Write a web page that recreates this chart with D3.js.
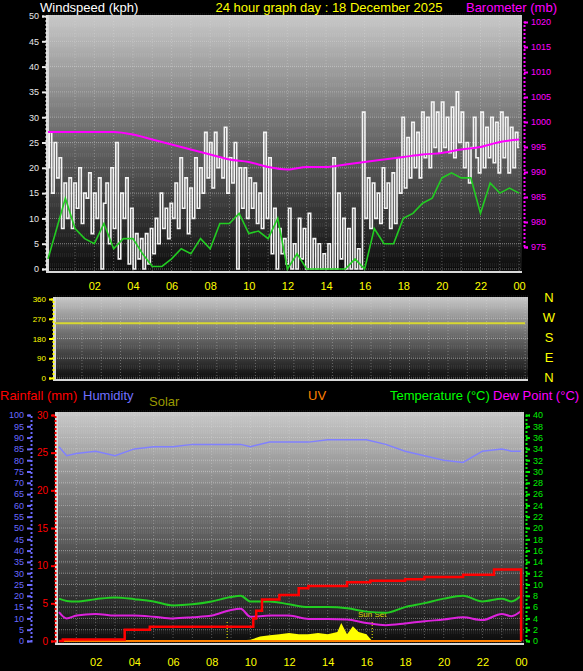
<!DOCTYPE html>
<html>
<head>
<meta charset="UTF-8">
<script src="https://d3js.org/d3.v7.min.js"></script>
<style>
body { margin:0; background:#000; }
text { font-family: "Liberation Sans", Arial, sans-serif; }
</style>
</head>
<body>
<svg id="chart" width="583" height="671"></svg>
<script>
// ---- data ----
var hourTicks = [2,4,6,8,10,12,14,16,18,20,22,24];
var windGust = [
 20,27,15,25,18,22,8,17, 10,18,8,17,12,20,9,15, 14,19,7,15,10,18,0,13, 17,5,20,8,25,2,15,10,
 18,1,12,0,7,2,6,0, 7,1,8,3,10,5,15,8, 12,6,13,10,17,8,22,12, 18,7,16,10,22,12,20,15,
 27,18,25,16,27,20,22,18, 28,15,22,17,25,0,20,12, 20,10,18,12,17,9,15,8, 27,10,22,3,12,0,8,3,
 6,1,12,0,5,0,10,2, 8,0,11,0,6,0,5,0, 3,0,5,0,22,0,15,2, 10,0,8,0,12,0,4,0,
 31,10,18,8,17,10,15,9, 20,12,17,8,19,9,22,15, 30,16,26,18,29,20,27,18, 31,22,30,20,33,24,31,23,
 33,24,30,23,32,22,35,25, 31,20,25,17,24,30,22,19, 31,20,28,22,30,21,29,19, 31,22,30,19,28,20,27,24];
var windAvgH = [-0.4,0.5,1,1.5,2,2.5,3,3.5,4,4.5,5,5.5,6,6.5,7,7.5,8,8.5,9,9.5,10,10.5,11,11.5,12,12.5,13,13.5,14,14.5,15,15.5,16,16.5,17,17.5,18,18.5,19,19.5,20,20.5,21,21.5,22,22.5,23,23.5,24];
var windAvg = [2,14,8,6,5,9,4,6,6,3,0.5,0.5,2,4,3,6,4,9,9,11,7,7.5,6,10,0,3,0,0,0,0,0,2,0,8,5,5,10,11,13,14,18,19,18,18,11,17,15,16,15];
var baroH = [-0.4,0,1,2,3,4,5,6,7,8,9,10,11,12,13,14,15,16,17,18,19,20,21,22,23,24];
var baro = [998,998,998,998,998,997.5,996.5,995.5,994.5,993.5,992.5,992,991,990.5,991,991,991.5,992,992.5,993,993.5,993.8,994.5,995,996,996.5];
var dirH = [-0.4,24];
var windDir = [250,250];

var bottomH = [0.1,0.5,1,2,3,4,5,6,7,8,9,9.5,10,11,12,13,14,15,16,17,18,19,20,21,22,23,23.5,24];
var humidity = [86,82,83,84,82,85,86,86,87,87,87,87,86,88,88,88,89,89,89,87,84,82,80,79,84,85,84,84];
var temperature = [7.5,7.1,7,7.4,7.7,7.4,7,6.3,6.5,7,7.8,8,7,7,6.5,6,6,5.8,5.2,5,6,6.7,7.5,8,7,7.5,7,8];
var dewPoint = [5.1,4,4.5,4.8,4.5,4.5,4.3,4,4.2,4.5,5.5,5.7,4.3,4.5,4.5,3.9,3.9,3.8,3.2,2.8,3.1,3.5,3.8,4.2,3.7,4.8,4.4,5.3];
var rainH = [0.1,0.3,3.5,4.8,10,10.15,10.3,10.6,11.5,12.5,13,15,16.2,18,19,21,22.6,23.9,24];
var rain = [0,0.2,1.5,1.9,1.9,3,4,5.5,6.1,7,7.3,7.8,8,8.2,8.5,8.8,9.5,9.5,0];
var solarH = [0.1,9,10,10.5,11,11.5,12,12.5,13,13.5,14,14.5,14.7,15,15.3,15.6,16,16.3,24];
var solar = [0,0,5,20,25,30,35,30,30,35,30,40,80,30,65,40,30,0,0];
var uvH = [0.1,24];
var uv = [0,0];
var sunEvents = [{h:8.8, label:""},{h:16.3, label:"Sun Set"}];

var svg = d3.select("#chart");
var defs = svg.append("defs");
var grad = defs.append("linearGradient").attr("id","bg").attr("x1",0).attr("y1",0).attr("x2",0).attr("y2",1);
grad.append("stop").attr("offset","0%").attr("stop-color","#c8c8c8");
grad.append("stop").attr("offset","45%").attr("stop-color","#6e6e6e");
grad.append("stop").attr("offset","100%").attr("stop-color","#0c0c0c");

function panel(x0,x1,y0,y1,yScale,yTicks,h0){
  var x = d3.scaleLinear().domain([h0,24.15]).range([x0,x1]);
  svg.append("rect").attr("x",x0).attr("y",y0).attr("width",x1-x0).attr("height",y1-y0).attr("fill","url(#bg)");
  for (var yy=y0; yy<y1; yy+=10){
    svg.append("line").attr("x1",x0).attr("x2",x1).attr("y1",yy).attr("y2",yy)
      .attr("stroke","#fff").attr("stroke-opacity",0.06).attr("stroke-width",4).attr("stroke-dasharray","1,1");
  }
  svg.append("g").selectAll("line").data(d3.range(1,25)).join("line")
    .attr("x1",d=>x(d)).attr("x2",d=>x(d)).attr("y1",y0).attr("y2",y1)
    .attr("stroke","#e0e0e0").attr("stroke-opacity",0.35).attr("stroke-dasharray","1,2");
  svg.append("g").selectAll("line").data(yTicks).join("line")
    .attr("x1",x0).attr("x2",x1).attr("y1",d=>yScale(d)).attr("y2",d=>yScale(d))
    .attr("stroke","#e0e0e0").attr("stroke-opacity",0.45).attr("stroke-dasharray","1,1");
  svg.append("rect").attr("x",x0-2).attr("y",y0).attr("width",3).attr("height",y1-y0+2).attr("fill","#d8d8d8");
  svg.append("rect").attr("x",x0-2).attr("y",y1).attr("width",x1-x0+2).attr("height",2).attr("fill","#d8d8d8");
  return x;
}
function xAxis(x,y){
  var g = svg.append("g").attr("transform","translate(0,"+y+")")
    .call(d3.axisBottom(x).tickValues(hourTicks).tickSize(0).tickFormat(d=>d3.format("02")(d%24)));
  g.select(".domain").remove();
  g.selectAll("text").attr("fill","#ffff00").attr("font-size",11);
}
function yAxis(scale,xpos,ticks,color,left,fs){
  var ax = left ? d3.axisLeft(scale) : d3.axisRight(scale);
  var g = svg.append("g").attr("transform","translate("+xpos+",0)")
    .call(ax.tickValues(ticks).tickSize(4).tickPadding(3).tickFormat(d3.format("d")));
  g.select(".domain").attr("stroke",color).attr("stroke-width",2).attr("stroke-dasharray","2,2");
  g.selectAll("line").attr("stroke",color).attr("stroke-width",2);
  g.selectAll("text").attr("fill",color).attr("font-size",fs).attr("font-family","Liberation Sans Narrow, Arial Narrow, sans-serif");
}

// ---- top panel ----
var yWind = d3.scaleLinear().domain([0,50]).range([269,16]);
var yBaro = d3.scaleLinear().domain([975,1020]).range([247,22]);
var xT = panel(48,522,15,271,yWind,d3.range(0,51,5),-0.4);
yAxis(yWind,46,d3.range(0,51,5),"#e8e8e8",true,9);
yAxis(yBaro,524,d3.range(975,1021,5),"#ff00ff",false,9);
var gustX = d3.scaleLinear().domain([0,windGust.length-1]).range([-0.4,24]);
svg.append("path").datum(windGust).attr("fill","none").attr("stroke","#f4f4f4").attr("stroke-width",1.6)
  .attr("d",d3.line().x((d,i)=>xT(gustX(i))).y(d=>yWind(d)).curve(d3.curveStep));
svg.append("path").datum(windAvg).attr("fill","none").attr("stroke","#22cc22").attr("stroke-width",1.6)
  .attr("d",d3.line().x((d,i)=>xT(windAvgH[i])).y(d=>yWind(d)));
svg.append("path").datum(baro).attr("fill","none").attr("stroke","#ff00ff").attr("stroke-width",2)
  .attr("d",d3.line().x((d,i)=>xT(baroH[i])).y(d=>yBaro(d)).curve(d3.curveMonotoneX));
xAxis(xT,279);

svg.append("text").attr("x",40).attr("y",12).attr("fill","#fff").attr("font-size",13).text("Windspeed (kph)");
svg.append("text").attr("x",329).attr("y",12).attr("text-anchor","middle").attr("fill","#ffff00").attr("font-size",13).text("24 hour graph day : 18 December 2025");
svg.append("text").attr("x",557).attr("y",12).attr("text-anchor","end").attr("fill","#ff00ff").attr("font-size",13).text("Barometer (mb)");

// ---- middle panel ----
var yDir = d3.scaleLinear().domain([0,360]).range([378,299]);
var xM = panel(55,528,297,379,yDir,[0,90,180,270,360],-0.4);
yAxis(yDir,53,[0,90,180,270,360],"#ffff00",true,8);
svg.append("path").datum(windDir).attr("fill","none").attr("stroke","#d8d830").attr("stroke-width",2)
  .attr("d",d3.line().x((d,i)=>xM(dirH[i])).y(d=>yDir(d)));
svg.append("g").selectAll("text").data(["N","W","S","E","N"]).join("text")
  .attr("x",549).attr("y",(d,i)=>302+i*20).attr("text-anchor","middle").attr("fill","#ffff00").attr("font-size",13).text(d=>d);

// ---- bottom panel ----
var yHum = d3.scaleLinear().domain([0,100]).range([641,415]);
var yRain = d3.scaleLinear().domain([0,30]).range([641,415]);
var yTemp = d3.scaleLinear().domain([0,40]).range([641,415]);
var ySolar = d3.scaleLinear().domain([0,1000]).range([641,415]);
var xB = panel(57,524,412,643,yTemp,d3.range(0,41,2),0);
yAxis(yHum,31,d3.range(0,101,5),"#6a6aff",true,9);
yAxis(yRain,55,d3.range(0,31,5),"#ff0000",true,10);
yAxis(yTemp,526,d3.range(0,41,2),"#00ee00",false,9);
svg.append("path").datum(solar).attr("fill","#ffff00")
  .attr("d",d3.area().x((d,i)=>xB(solarH[i])).y0(yTemp(0)).y1(d=>ySolar(d)));
sunEvents.forEach(function(e){
  svg.append("line").attr("x1",xB(e.h)).attr("x2",xB(e.h)).attr("y1",yTemp(0)).attr("y2",yTemp(3.5))
    .attr("stroke","#ffff00").attr("stroke-dasharray","1,2");
  if (e.label) svg.append("text").attr("x",xB(e.h)).attr("y",yTemp(4.2)).attr("text-anchor","middle")
    .attr("fill","#dddd00").attr("font-size",8).text(e.label);
});
svg.append("path").datum(uv).attr("fill","none").attr("stroke","#ff8000").attr("stroke-width",2)
  .attr("d",d3.line().x((d,i)=>xB(uvH[i])).y(d=>yTemp(d)));
svg.append("path").datum(humidity).attr("fill","none").attr("stroke","#8080ff").attr("stroke-width",1.5)
  .attr("d",d3.line().x((d,i)=>xB(bottomH[i])).y(d=>yHum(d)));
svg.append("path").datum(temperature).attr("fill","none").attr("stroke","#22cc22").attr("stroke-width",2)
  .attr("d",d3.line().x((d,i)=>xB(bottomH[i])).y(d=>yTemp(d)).curve(d3.curveMonotoneX));
svg.append("path").datum(dewPoint).attr("fill","none").attr("stroke","#dd22dd").attr("stroke-width",2)
  .attr("d",d3.line().x((d,i)=>xB(bottomH[i])).y(d=>yTemp(d)).curve(d3.curveMonotoneX));
svg.append("path").datum(rain).attr("fill","none").attr("stroke","#ff0000").attr("stroke-width",2.5)
  .attr("d",d3.line().x((d,i)=>xB(rainH[i])).y(d=>yRain(d)).curve(d3.curveStepAfter));
xAxis(xB,655);

var labels = [
  {t:"Rainfall (mm)", x:0, y:400, c:"#ff0000"},
  {t:"Humidity", x:83, y:400, c:"#7070ff"},
  {t:"Solar", x:149, y:406, c:"#999900"},
  {t:"UV", x:308, y:400, c:"#ff8000"},
  {t:"Temperature (°C)", x:390, y:400, c:"#00ff00"},
  {t:"Dew Point (°C)", x:493, y:400, c:"#ff00ff"}
];
svg.append("g").selectAll("text").data(labels).join("text")
  .attr("x",d=>d.x).attr("y",d=>d.y).attr("fill",d=>d.c).attr("font-size",13).text(d=>d.t);
</script>
</body>
</html>
